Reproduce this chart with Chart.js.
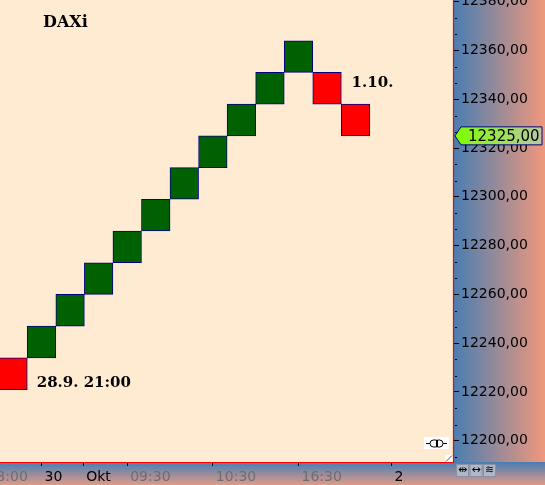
<!DOCTYPE html>
<html>
<head>
<meta charset="utf-8">
<script src="https://cdn.jsdelivr.net/npm/chart.js@4.4.1/dist/chart.umd.min.js"></script>
<style>
  html, body { margin: 0; padding: 0; background: #ffebd1; }
  #wrap { width: 545px; height: 485px; }
</style>
</head>
<body>
<div id="wrap"><canvas id="renko" width="545" height="485"></canvas></div>
<script>
// renko bricks, one per slot
const slots = [0, 1, 2, 3, 4, 5, 6, 7, 8, 9, 10, 11, 12]
const brickOpen = [12234, 12234, 12247, 12260, 12273, 12286, 12299, 12312, 12325, 12338, 12351, 12351, 12338]
const brickClose = [12221, 12247, 12260, 12273, 12286, 12299, 12312, 12325, 12338, 12351, 12364, 12338, 12325]

// time axis (positions in slot units)
const xTickSlots = [-1, 1, 2.46, 4, 7, 10, 13.26]
const xTickLabels = ['18:00', '30', 'Okt', '09:30', '10:30', '16:30', '2']
const xTickIsDate = [false, true, true, false, false, false, true]

// price axis
const yTicks = [12200, 12220, 12240, 12260, 12280, 12300, 12320, 12340, 12360, 12380]
const currentPrice = 12325

// date notes on the chart
const noteTexts = ['28.9. 21:00', '1.10.']
const noteSlots = [0.83, 11.86]
const noteValues = [12222.2, 12344.9]

const X_MIN = -0.4553, X_MAX = 15.447
const Y_MIN = 12191.3, Y_MAX = 12380.7

const GREEN = '#006100'
const RED = '#ff0000'
const NAVY = '#000080'
const CREAM = '#ffebd1'

const fmt = v => v.toFixed(2).replace('.', ',')

const backdrop = {
    id: 'backdrop',
    beforeDraw(chart) {
        const {ctx, chartArea: a, width, height} = chart
        ctx.save()
        ctx.fillStyle = CREAM
        ctx.fillRect(a.left, a.top, a.right - a.left, a.bottom - a.top)
        let g = ctx.createLinearGradient(a.right, 0, width, 0)
        g.addColorStop(0, '#4a7db2')
        g.addColorStop(1, '#f0987c')
        ctx.fillStyle = g
        ctx.fillRect(a.right, 0, width - a.right, a.bottom)
        g = ctx.createLinearGradient(0, a.bottom, 0, height)
        g.addColorStop(0, '#497db3')
        g.addColorStop(1, '#e09a88')
        ctx.fillStyle = g
        ctx.fillRect(0, a.bottom, width, height - a.bottom)
        ctx.restore()
    }
}

const overlay = {
    id: 'overlay',
    afterDraw(chart) {
        const {ctx, chartArea: a} = chart
        const xs = chart.scales.x, ys = chart.scales.y
        ctx.save()

        // minor ticks on the price axis
        ctx.strokeStyle = '#000'
        ctx.lineWidth = 1
        yTicks.forEach(v => {
            [v - 20 / 3, v - 40 / 3].forEach(m => {
                const py = Math.round(ys.getPixelForValue(m)) + 0.5
                if (py < a.top || py > a.bottom) return
                ctx.beginPath()
                ctx.moveTo(a.right + 1, py)
                ctx.lineTo(a.right + 3, py)
                ctx.stroke()
            })
        })

        // red frame
        ctx.strokeStyle = RED
        ctx.lineWidth = 1.2
        ctx.beginPath()
        ctx.moveTo(a.right - 0.5, 0)
        ctx.lineTo(a.right - 0.5, a.bottom + 0.5)
        ctx.lineTo(0, a.bottom + 0.5)
        ctx.stroke()

        // title and notes
        ctx.fillStyle = '#000'
        ctx.textBaseline = 'alphabetic'
        ctx.textAlign = 'left'
        ctx.font = 'bold 16px "DejaVu Serif"'
        ctx.fillText('DAXi', 43, 27)
        ctx.font = 'bold 15px "DejaVu Serif"'
        noteTexts.forEach((t, i) => {
            ctx.fillText(t, xs.getPixelForValue(noteSlots[i]), ys.getPixelForValue(noteValues[i]))
        })

        // current price tag
        const py = ys.getPixelForValue(currentPrice)
        const l = a.right + 1, r = 542, h = 9
        const g = ctx.createLinearGradient(l, 0, r, 0)
        g.addColorStop(0, '#7dff00')
        g.addColorStop(1, '#b9c7a6')
        ctx.beginPath()
        ctx.moveTo(l, py)
        ctx.lineTo(l + 6, py - h)
        ctx.lineTo(r, py - h)
        ctx.lineTo(r, py + h)
        ctx.lineTo(l + 6, py + h)
        ctx.closePath()
        ctx.fillStyle = g
        ctx.fill()
        ctx.strokeStyle = NAVY
        ctx.lineWidth = 1
        ctx.stroke()
        ctx.fillStyle = '#000'
        ctx.font = '15px "DejaVu Sans"'
        ctx.textBaseline = 'middle'
        ctx.fillText(fmt(currentPrice), l + 13, py + 1)

        // little plug icon and corner grip
        ctx.fillStyle = '#fff'
        ctx.fillRect(424, 437, 25, 12)
        ctx.strokeStyle = '#000'
        ctx.lineWidth = 1
        ctx.beginPath()
        ctx.moveTo(426, 443.5); ctx.lineTo(430, 443.5)
        ctx.moveTo(443, 443.5); ctx.lineTo(447, 443.5)
        ctx.stroke()
        ctx.beginPath()
        ctx.arc(433.5, 443.5, 3.5, Math.PI * 0.5, Math.PI * 1.5)
        ctx.lineTo(436.5, 440); ctx.lineTo(436.5, 447); ctx.closePath()
        ctx.stroke()
        ctx.beginPath()
        ctx.moveTo(437.5, 440); ctx.lineTo(439.5, 440)
        ctx.arc(439.5, 443.5, 3.5, -Math.PI * 0.5, Math.PI * 0.5)
        ctx.lineTo(437.5, 447); ctx.closePath()
        ctx.stroke()

        ctx.fillStyle = '#fff'
        ctx.fillRect(445.5, 455, 7, 7)
        ctx.strokeStyle = '#555'
        ctx.beginPath()
        ctx.moveTo(446, 461.5); ctx.lineTo(452, 455.5)
        ctx.stroke()

        // tool buttons under the price axis
        const glyphs = ['\u21f9', '\u2194', '\u224b']
        glyphs.forEach((s, i) => {
            const bx = 456 + i * 13.5
            ctx.fillStyle = '#b0b7c8'
            ctx.fillRect(bx, 464, 13, 13)
            ctx.strokeStyle = '#8890a4'
            ctx.strokeRect(bx + 0.5, 464.5, 12, 12)
            ctx.fillStyle = '#000'
            ctx.font = '11px "DejaVu Sans"'
            ctx.textAlign = 'center'
            ctx.textBaseline = 'middle'
            ctx.fillText(s, bx + 6.5, 470.5)
        })
        ctx.restore()
    }
}

Chart.defaults.font.family = '"DejaVu Sans"'

new Chart(document.getElementById('renko'), {
    type: 'bar',
    data: {
        datasets: [{
            data: slots.map((s, i) => ({x: s, y: [brickOpen[i], brickClose[i]]})),
            backgroundColor: slots.map((s, i) => brickClose[i] > brickOpen[i] ? GREEN : RED),
            borderColor: NAVY,
            borderWidth: 1,
            borderSkipped: false,
            barPercentage: 1,
            categoryPercentage: 1
        }]
    },
    options: {
        responsive: false,
        devicePixelRatio: 1,
        animation: false,
        layout: {padding: 0},
        plugins: {legend: {display: false}, tooltip: {enabled: false}},
        scales: {
            x: {
                type: 'linear',
                min: X_MIN,
                max: X_MAX,
                offset: false,
                border: {display: false},
                grid: {drawOnChartArea: false, offset: false, tickLength: 4, tickColor: '#000'},
                afterBuildTicks: scale => { scale.ticks = xTickSlots.map(v => ({value: v})) },
                afterFit: scale => {
                    scale.height = 23
                    scale.paddingLeft = 0
                    scale.paddingRight = 0
                },
                ticks: {
                    autoSkip: false,
                    maxRotation: 0,
                    minRotation: 0,
                    align: 'start',
                    labelOffset: 3,
                    padding: 3,
                    font: {size: 14},
                    color: c => xTickIsDate[c.index] ? '#000' : '#6e6e6e',
                    callback: (v, i) => xTickLabels[i]
                }
            },
            y: {
                position: 'right',
                min: Y_MIN,
                max: Y_MAX,
                beginAtZero: false,
                border: {display: false},
                grid: {drawOnChartArea: false, tickLength: 5, tickColor: '#000'},
                afterBuildTicks: scale => { scale.ticks = yTicks.map(v => ({value: v})) },
                afterFit: scale => {
                    scale.width = 91
                    scale.paddingTop = 0
                    scale.paddingBottom = 0
                },
                ticks: {
                    autoSkip: false,
                    padding: 2,
                    font: {size: 14},
                    color: '#000',
                    callback: v => fmt(v)
                }
            }
        }
    },
    plugins: [backdrop, overlay]
})
</script>
</body>
</html>
